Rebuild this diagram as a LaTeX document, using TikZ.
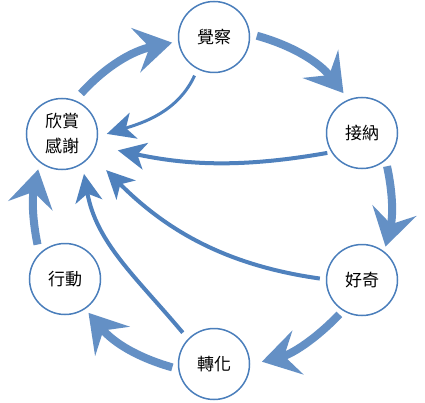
\documentclass[tikz,border=0pt]{standalone}
\usepackage{fontspec}
\setmainfont{Noto Sans CJK TC}
\usetikzlibrary{arrows.meta}
\definecolor{ringblue}{HTML}{4A7EBB}
\definecolor{chalkblue}{HTML}{4F81BD}

\begin{document}
\begin{tikzpicture}[x=1pt, y=1pt,
    stage/.style={circle, draw=ringblue, line width=1.5pt, fill=white,
      minimum size=71pt, inner sep=0pt, align=center,
      font=\fontsize{17}{25}\selectfont},
    chalk/.style={chalkblue!88!white, line width=8pt,
      -{Stealth[length=37pt, width=45pt, inset=14pt]}},
    flow/.style={chalkblue, line width=4pt,
      -{Stealth[length=28pt, width=27pt, inset=8pt]}}]
        \useasboundingbox (0,0) rectangle (425,402);

        % The six stages of the cycle
        \node[stage] (gan) at (62,268) {欣賞\\感謝};
        \node[stage] (jue) at (214,365) {覺察};
        \node[stage] (jie) at (362,269) {接納};
        \node[stage] (hao) at (362,122) {好奇};
        \node[stage] (zhuan) at (214,38) {轉化};
        \node[stage] (xing) at (65,123) {行動};

        % Chalky arrows running round the outside
        \draw[chalk, shorten <=9pt, shorten >=6pt] (gan.69) to[bend left=18] (jue.187);
        \draw[chalk, shorten <=7pt, shorten >=8pt] (jue.5) to[bend left=18] (jie.112);
        \draw[chalk, shorten <=6pt, shorten >=5pt] (jie.-49) to[bend left=13] (hao.52);
        \draw[chalk, shorten <=5pt, shorten >=12pt] (hao.-122) to[bend left=16] (zhuan.-1);
        \draw[chalk, shorten <=6pt, shorten >=5pt] (zhuan.188) to[bend left=17] (xing.-56);
        \draw[chalk, shorten <=9pt, shorten >=7pt] (xing.135) to[bend left=12] (gan.232);

        % Inner arrows back to the first stage
        \draw[flow, line width=3pt, shorten <=7pt, shorten >=9pt] (jue.243) to[out=-115, in=17] (gan.-4);
        \draw[flow, shorten <=4pt, shorten >=22pt] (jie.212) to[out=190, in=-12] (gan.-19);
        \draw[flow, shorten <=6pt, shorten >=21pt] (hao.179) to[out=172, in=-45] (gan.-36);
        \draw[flow, shorten <=8pt, shorten >=10pt] (zhuan.136) to[out=130, in=-80] (gan.-56);

    \end{tikzpicture}
\end{document}
